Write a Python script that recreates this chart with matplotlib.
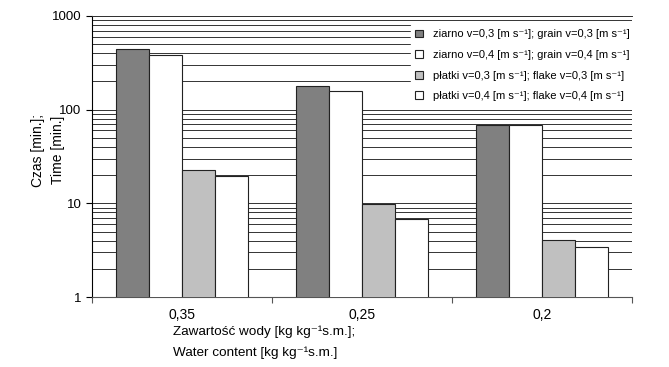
import matplotlib
matplotlib.use('Agg')
import matplotlib.pyplot as plt
from matplotlib.patches import Patch
from matplotlib.ticker import FixedLocator, NullFormatter

plt.rcParams['font.family'] = ['Liberation Sans', 'DejaVu Sans']

categories = ['0,35', '0,25', '0,2']
grain_03 = [441, 180, 69]
grain_04 = [384, 157, 69]
flake_03 = [22.5, 9.9, 4.1]
flake_04 = [19.6, 6.8, 3.4]

labels = ['ziarno v=0,3 [m s⁻¹]; grain v=0,3 [m s⁻¹]',
          'ziarno v=0,4 [m s⁻¹]; grain v=0,4 [m s⁻¹]',
          'płatki v=0,3 [m s⁻¹]; flake v=0,3 [m s⁻¹]',
          'płatki v=0,4 [m s⁻¹]; flake v=0,4 [m s⁻¹]']
colors = ['#808080', 'white', '#c0c0c0', 'white']
series = [grain_03, grain_04, flake_03, flake_04]

fig = plt.figure(figsize=(6.69, 3.67), dpi=100)
ax = fig.add_axes([92 / 669, 1 - 297 / 367, 540 / 669, 281 / 367])

w = 0.183
x = range(len(categories))
for k, (vals, c) in enumerate(zip(series, colors)):
    pos = [i + (k - 1.5) * w for i in x]
    ax.bar(pos, vals, width=w, color=c, edgecolor='#222222', linewidth=0.8, zorder=3)

ax.set_yscale('log')
ax.set_ylim(1, 1000)
ax.set_xlim(-0.5, 2.5)

ax.yaxis.grid(True, which='both', color='#333333', linewidth=0.7, zorder=0)
ax.set_axisbelow(True)
ax.set_yticks([1, 10, 100, 1000])
ax.set_yticklabels(['1', '10', '100', '1000'], fontsize=9.5)
ax.yaxis.set_minor_formatter(NullFormatter())
ax.tick_params(axis='y', which='major', direction='out', length=4, width=0.8)
ax.tick_params(axis='y', which='minor', length=0)

ax.xaxis.set_major_locator(FixedLocator([-0.5, 0.5, 1.5, 2.5]))
ax.xaxis.set_major_formatter(NullFormatter())
ax.xaxis.set_minor_locator(FixedLocator(list(x)))
ax.set_xticklabels(categories, minor=True, fontsize=10)
ax.tick_params(axis='x', which='major', direction='out', length=4, width=0.8, color='#555555')
ax.tick_params(axis='x', which='minor', length=0, pad=8)

ax.spines['right'].set_visible(False)
ax.spines['top'].set_color('#333333')
ax.spines['top'].set_linewidth(0.7)
ax.spines['left'].set_linewidth(0.8)
ax.spines['bottom'].set_linewidth(0.8)
ax.spines['bottom'].set_color('#555555')

fig.text(48 / 669, 1 - 150 / 367, 'Czas [min.];\nTime [min.]', rotation=90,
         ha='center', va='center', fontsize=10, linespacing=1.55)
fig.text(173 / 669, 1 - 342 / 367, 'Zawartość wody [kg kg⁻¹s.m.];\nWater content [kg kg⁻¹s.m.]',
         ha='left', va='center', fontsize=9.7, linespacing=1.85)

handles = [Patch(facecolor=c, edgecolor='#222222', linewidth=0.8) for c in colors]
leg = ax.legend(handles, labels, loc='upper left', bbox_to_anchor=(411 / 669, 1 - 25 / 367),
                bbox_transform=fig.transFigure, fontsize=8, frameon=True, fancybox=False,
                handlelength=0.7, handleheight=0.7, handletextpad=0.9, labelspacing=0.95,
                borderpad=0.4, borderaxespad=0)
leg.get_frame().set_edgecolor('white')
leg.get_frame().set_facecolor('white')
leg.get_frame().set_alpha(1)
leg.set_zorder(5)

fig.savefig('out.png', dpi=100)
